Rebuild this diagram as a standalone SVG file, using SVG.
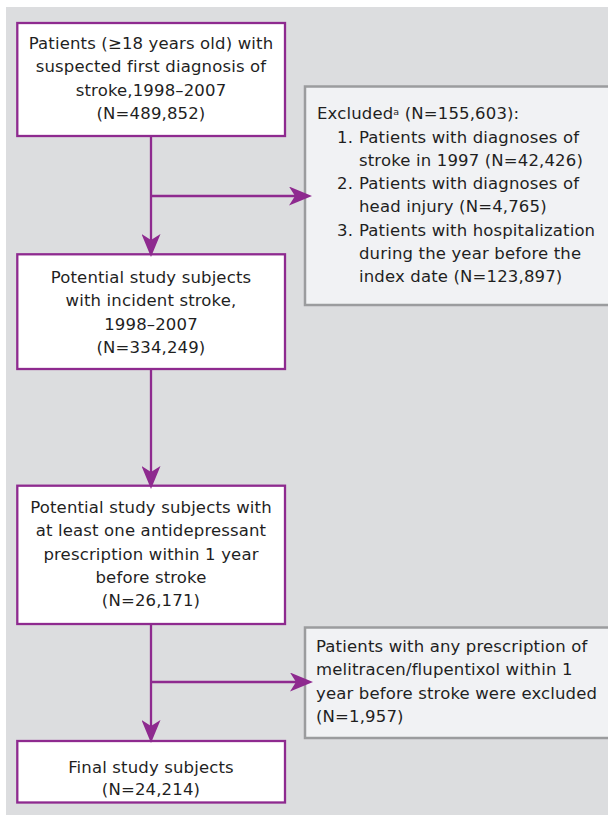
<svg xmlns="http://www.w3.org/2000/svg" width="608" height="815" viewBox="0 0 608 815">
  <style>
    .main { fill: #ffffff; stroke: #8e2a8f; stroke-width: 2.3; }
    .excl { fill: #f1f2f4; stroke: #9b9c9e; stroke-width: 2.5; }
    text { font-family: "DejaVu Sans", "Open Sans", "Liberation Sans", sans-serif; font-size: 16.5px; letter-spacing: 0.15px; fill: #1f1f1f; }
    .c { text-anchor: middle; }
    .conn { stroke: #8e2a8f; stroke-width: 2.3; fill: none; }
  </style>
  <defs>
    <marker id="arr" viewBox="0 0 23 19" refX="6" refY="9.5" markerWidth="23" markerHeight="19" markerUnits="userSpaceOnUse" orient="auto">
      <path d="M0,0 L23,9.5 L0,19 L6,9.5 Z" fill="#8e2a8f"/>
    </marker>
  </defs>
  <rect x="6" y="7" width="602" height="808" fill="#dcdddf"/>

  <g id="node-patients">
    <rect class="main" x="17.3" y="23" width="267.7" height="113"/>
    <text class="c" x="151" y="49">Patients (≥18 years old) with</text>
    <text class="c" x="151" y="72.3">suspected first diagnosis of</text>
    <text class="c" x="151" y="95.6">stroke,1998–2007</text>
    <text class="c" x="151" y="119">(N=489,852)</text>
  </g>

  <g id="node-excluded1">
    <rect class="excl" x="305" y="86.5" width="320" height="218.5"/>
    <text x="317" y="119">Excluded<tspan font-size="9.5" dy="-4.5">a</tspan><tspan dy="4.5"> (N=155,603):</tspan></text>
    <text x="337" y="142.5">1.</text>
    <text x="359" y="142.5">Patients with diagnoses of</text>
    <text x="359" y="165.8">stroke in 1997 (N=42,426)</text>
    <text x="337" y="189.1">2.</text>
    <text x="359" y="189.1">Patients with diagnoses of</text>
    <text x="359" y="212.4">head injury (N=4,765)</text>
    <text x="337" y="235.7">3.</text>
    <text x="359" y="235.7">Patients with hospitalization</text>
    <text x="359" y="259">during the year before the</text>
    <text x="359" y="282.3">index date (N=123,897)</text>
  </g>

  <g id="node-potential">
    <rect class="main" x="17.3" y="254.3" width="267.7" height="114.7"/>
    <text class="c" x="151" y="283">Potential study subjects</text>
    <text class="c" x="151" y="306.3">with incident stroke,</text>
    <text class="c" x="151" y="329.6">1998–2007</text>
    <text class="c" x="151" y="352.9">(N=334,249)</text>
  </g>

  <g id="node-antidepressant">
    <rect class="main" x="17.3" y="485.7" width="267.7" height="138.3"/>
    <text class="c" x="151" y="513">Potential study subjects with</text>
    <text class="c" x="151" y="536.3">at least one antidepressant</text>
    <text class="c" x="151" y="559.6">prescription within 1 year</text>
    <text class="c" x="151" y="582.9">before stroke</text>
    <text class="c" x="151" y="606.2">(N=26,171)</text>
  </g>

  <g id="node-excluded2">
    <rect class="excl" x="305" y="627.5" width="320" height="110.5"/>
    <text x="316" y="652">Patients with any prescription of</text>
    <text x="316" y="675.3">melitracen/flupentixol within 1</text>
    <text x="316" y="698.6">year before stroke were excluded</text>
    <text x="316" y="721.9">(N=1,957)</text>
  </g>

  <g id="node-final">
    <rect class="main" x="17.3" y="741" width="267.7" height="61.5"/>
    <text class="c" x="151" y="772.5">Final study subjects</text>
    <text class="c" x="151" y="795">(N=24,214)</text>
  </g>

  <g id="connectors">
    <line class="conn" x1="151" y1="137" x2="151" y2="240" marker-end="url(#arr)"/>
    <line class="conn" x1="151" y1="196" x2="295" y2="196" marker-end="url(#arr)"/>
    <line class="conn" x1="151" y1="370" x2="151" y2="472" marker-end="url(#arr)"/>
    <line class="conn" x1="151" y1="625" x2="151" y2="726" marker-end="url(#arr)"/>
    <line class="conn" x1="151" y1="682" x2="296" y2="682" marker-end="url(#arr)"/>
  </g>
</svg>
